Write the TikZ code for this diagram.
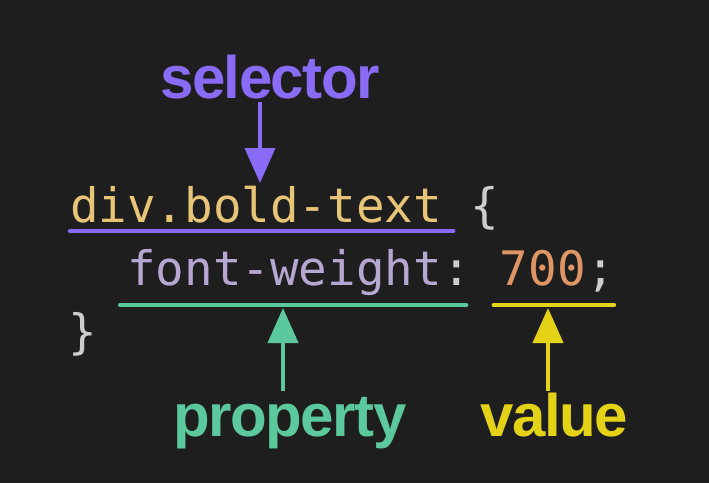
\documentclass[tikz,border=0pt]{standalone}
\usepackage{fontspec}
\newfontfamily\codefont{DejaVu Sans Mono}
\newfontfamily\tagfont[LetterSpace=-2.5]{Liberation Sans}
\definecolor{bgDark}{RGB}{30,30,31}
\definecolor{tagPurple}{RGB}{137,107,246}
\definecolor{tagGreen}{RGB}{92,200,158}
\definecolor{tagYellow}{RGB}{228,210,22}
\definecolor{codeSel}{RGB}{232,196,118}
\definecolor{codeProp}{RGB}{182,166,210}
\definecolor{codeNum}{RGB}{224,150,100}
\definecolor{codePunct}{RGB}{205,205,205}
\usepackage{tikz}
\usetikzlibrary{shapes,arrows,positioning,calc,arrows.meta}

\begin{document}
\begin{tikzpicture}[x=1pt,y=-1pt,
                code/.style={font=\codefont\fontsize{47.5}{50}\selectfont,inner sep=0pt,anchor=base west},
                tag/.style={font=\tagfont\bfseries\fontsize{60}{60}\selectfont,inner sep=0pt,anchor=base},
                uline/.style={line width=4.5pt,line cap=round},
                pointer/.style={line width=4pt,-{Triangle[width=30pt,length=35pt]}}
            ]
                \fill[bgDark] (0,0) rectangle (709,483);
                \node[code,text=codeSel] (sel) at (70,222) {div.bold-text};
                \node[code,text=codePunct] (open) at ($(sel.base east)+(28.6,0)$) {\{};
                \node[code,text=codeProp] (prop) at (127.2,285) {font-weight};
                \node[code,text=codePunct] (colon) at (prop.base east) {:};
                \node[code,text=codeNum] (val) at ($(colon.base east)+(28.6,0)$) {700};
                \node[code,text=codePunct] (semi) at (val.base east) {;};
                \node[code,text=codePunct] (close) at (68,348) {\}};
                \node[tag,text=tagPurple] (selLabel) at (270,98) {selector};
                \node[tag,text=tagGreen] (propLabel) at (290,436) {property};
                \node[tag,text=tagYellow] (valLabel) at (554,436) {value};
                \coordinate (selTip) at (260,183);
                \coordinate (propTip) at (283,308);
                \coordinate (valTip) at (548,308);
                \draw[uline,tagPurple] ($(sel.base west)+(0,9)$) -- ($(sel.base east)+(11,9)$);
                \draw[uline,tagGreen] ($(prop.base west)+(-7,20)$) -- ($(colon.base east)+(-5,20)$);
                \draw[uline,tagYellow] ($(val.base west)+(-6,20)$) -- ($(semi.base east)+(-1,20)$);
                \draw[pointer,tagPurple] ($(selTip |- selLabel.base)+(0,4)$) -- (selTip);
                \draw[pointer,tagGreen] ($(propTip |- propLabel.base)+(0,-45)$) -- (propTip);
                \draw[pointer,tagYellow] ($(valTip |- valLabel.base)+(0,-45)$) -- (valTip);
            \end{tikzpicture}
\end{document}
